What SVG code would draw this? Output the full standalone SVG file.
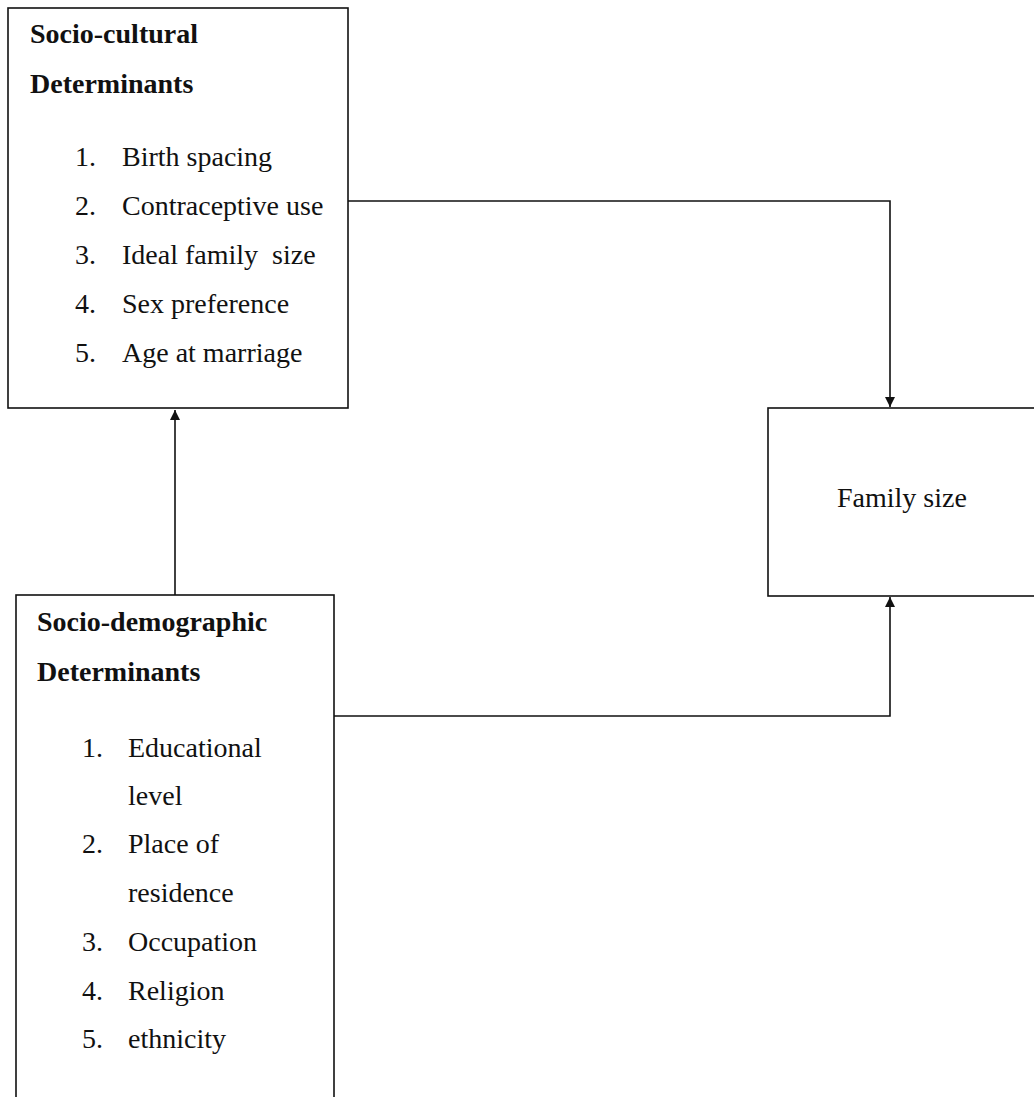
<svg xmlns="http://www.w3.org/2000/svg" width="1034" height="1097" viewBox="0 0 1034 1097">
<style>
.box{fill:#fff;stroke:#111;stroke-width:1.6}
.t{font-family:"Liberation Serif","Times New Roman",serif;font-size:28px;fill:#111}
.b{font-weight:bold}
.c{fill:none;stroke:#111;stroke-width:1.6}
</style>
<defs>
<marker id="ah" viewBox="0 0 10 10" refX="10" refY="5" markerWidth="10" markerHeight="10" markerUnits="userSpaceOnUse" orient="auto">
<path d="M0,0 L10,5 L0,10 z" fill="#111"/>
</marker>
</defs>
<rect width="1034" height="1097" fill="#fff"/>
<g id="connectors">
<path class="c" d="M348,201 H890 V407" marker-end="url(#ah)"/>
<path class="c" d="M175,595 V410" marker-end="url(#ah)"/>
<path class="c" d="M334,716 H890 V597" marker-end="url(#ah)"/>
</g>
<g id="socio-cultural">
<rect class="box" x="8" y="8" width="340" height="400"/>
<text class="t b" x="30" y="43">Socio-cultural</text>
<text class="t b" x="30" y="93">Determinants</text>
<text class="t" x="75" y="166">1.</text><text class="t" x="122" y="166">Birth spacing</text>
<text class="t" x="75" y="215">2.</text><text class="t" x="122" y="215">Contraceptive use</text>
<text class="t" x="75" y="264">3.</text><text class="t" x="122" y="264" xml:space="preserve">Ideal family  size</text>
<text class="t" x="75" y="313">4.</text><text class="t" x="122" y="313">Sex preference</text>
<text class="t" x="75" y="362">5.</text><text class="t" x="122" y="362">Age at marriage</text>
</g>
<g id="socio-demographic">
<rect class="box" x="16" y="595" width="318" height="520"/>
<text class="t b" x="37" y="631">Socio-demographic</text>
<text class="t b" x="37" y="681">Determinants</text>
<text class="t" x="82" y="757">1.</text><text class="t" x="128" y="757">Educational</text>
<text class="t" x="128" y="805">level</text>
<text class="t" x="82" y="853">2.</text><text class="t" x="128" y="853">Place of</text>
<text class="t" x="128" y="902">residence</text>
<text class="t" x="82" y="951">3.</text><text class="t" x="128" y="951">Occupation</text>
<text class="t" x="82" y="1000">4.</text><text class="t" x="128" y="1000">Religion</text>
<text class="t" x="82" y="1048">5.</text><text class="t" x="128" y="1048">ethnicity</text>
</g>
<g id="family-size">
<rect class="box" x="768" y="408" width="280" height="188"/>
<text class="t" x="837" y="507">Family size</text>
</g>
</svg>
